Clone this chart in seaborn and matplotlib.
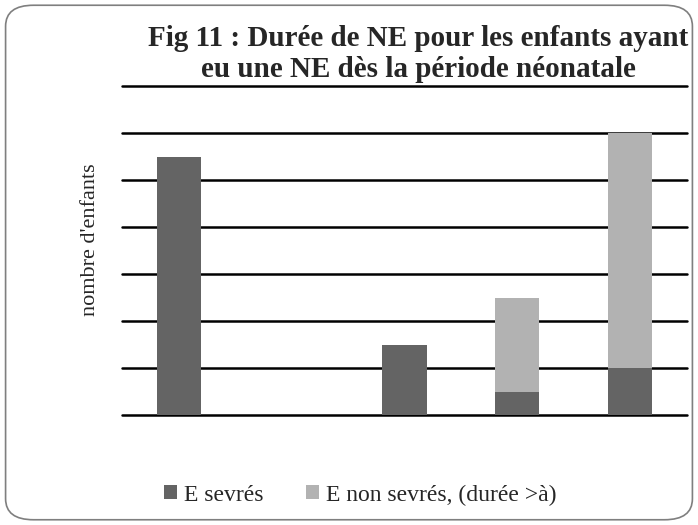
import numpy as np
import matplotlib.pyplot as plt
import seaborn as sns
from matplotlib.patches import FancyBboxPatch

# -------------------------------
# Data
# -------------------------------
categories = ["1", "2", "3", "4", "5"]
sevres = [11, 0, 3, 1, 2]
non_sevres = [0, 0, 0, 4, 10]

title = "Fig 11 : Durée de NE pour les enfants ayant\neu une NE dès la période néonatale"
ylabel = "nombre d'enfants"
labels = ["E sevrés", "E non sevrés, (durée >à)"]

dark = "#646464"
light = "#b2b2b2"

# -------------------------------
# Figure
# -------------------------------
sns.set_style("white")
plt.rcParams["font.family"] = ["Liberation Serif", "DejaVu Serif"]

fig = plt.figure(figsize=(6.98, 5.25), dpi=100)
ax = fig.add_axes([0.175, 0.2095, 0.809, 0.6265])

sns.barplot(x=categories, y=sevres, color=dark, width=0.39,
            saturation=1, label=labels[0], linewidth=0, edgecolor="none", ax=ax)
sns.barplot(x=categories, y=non_sevres, bottom=sevres, color=light,
            width=0.39, saturation=1, label=labels[1], linewidth=0,
            edgecolor="none", ax=ax)

ax.set_ylim(0, 14)
ax.set_xlim(-0.5, 4.5)
ax.set_yticks([])
ax.set_xticks([])
for yv in np.arange(0, 15, 2):
    ax.axhline(yv, color="black", linewidth=1.8, zorder=0.5, clip_on=False)
for s in ax.spines.values():
    s.set_visible(False)

ax.set_ylabel(ylabel, fontsize=16)
ax.yaxis.set_label_coords(-0.04, 0.532)
ax.set_xlabel("")
if ax.get_legend():
    ax.get_legend().remove()

fig.text(0.599, 0.897, title, ha="center", va="center",
         fontsize=21, fontweight="bold", linespacing=1.15)

h, l = ax.get_legend_handles_labels()
fig.legend(h, l, loc="center", bbox_to_anchor=(0.516, 0.057), ncol=2,
           frameon=False, fontsize=17, handlelength=0.55, handleheight=0.55,
           handletextpad=0.3, columnspacing=1.8)

# rounded border
border = FancyBboxPatch((0.008, 0.01), 0.984, 0.98,
                        boxstyle="round,pad=0,rounding_size=0.04",
                        transform=fig.transFigure, fill=False,
                        edgecolor="#7f7f7f", linewidth=1.2)
fig.patches.append(border)

plt.savefig("out.png", dpi=100)
